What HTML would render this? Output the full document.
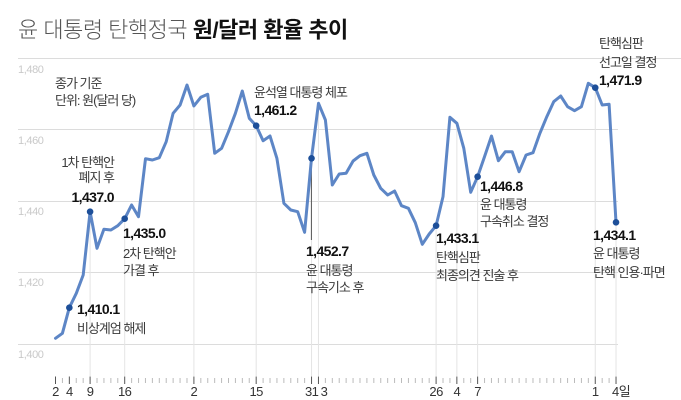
<!DOCTYPE html>
<html><head><meta charset="utf-8">
<style>
html,body{margin:0;padding:0;background:#fff;}
svg{display:block;}
text{font-family:"Liberation Sans","Noto Sans CJK KR",sans-serif;}
.kr{font-size:13px;fill:#3a3a3a;letter-spacing:-1px;}
.num{font-size:14px;font-weight:bold;fill:#111;letter-spacing:-0.6px;}
.yl{font-size:11px;fill:#c9c9c9;letter-spacing:-0.4px;}
.xl{font-size:13px;fill:#333;letter-spacing:-0.5px;}
</style></head>
<body>
<svg id="c" width="681" height="400" viewBox="0 0 681 400" xmlns="http://www.w3.org/2000/svg">
<rect width="681" height="400" fill="#fff"/>
<text x="18" y="37.5" style="font-size:22px;letter-spacing:-0.5px"><tspan fill="#555" font-weight="300">윤 대통령 탄핵정국 </tspan><tspan fill="#111" font-weight="bold">원/달러 환율 추이</tspan></text>

<g stroke="#dcdcdc" stroke-width="1">
<line x1="18" y1="58.5" x2="681" y2="58.5"/>
<line x1="18" y1="129.5" x2="618" y2="129.5"/>
<line x1="18" y1="201.5" x2="618" y2="201.5"/>
<line x1="18" y1="272.5" x2="618" y2="272.5"/>
<line x1="18" y1="344.5" x2="618" y2="344.5"/>
</g>
<text class="yl" x="18" y="73">1,480</text>
<text class="yl" x="18" y="144">1,460</text>
<text class="yl" x="18" y="215">1,440</text>
<text class="yl" x="18" y="286">1,420</text>
<text class="yl" x="18" y="358">1,400</text>

<g id="guides" stroke="#e4e4e4" stroke-width="1"></g>
<g id="ticks"></g>
<line x1="311.4" y1="158" x2="311.4" y2="240" stroke="#555" stroke-width="1"/>

<polyline id="ln" fill="none" stroke="#5d86c6" stroke-width="3" stroke-linejoin="round" stroke-linecap="round" points=""/>
<g id="dots" fill="#1d4f99"></g>

<!-- annotations -->
<text class="kr" x="55" y="88">종가 기준</text>
<text class="kr" x="55" y="105">단위: 원(달러 당)</text>

<text class="kr" x="114" y="167" text-anchor="end">1차 탄핵안</text>
<text class="kr" x="114" y="182" text-anchor="end">폐지 후</text>
<text class="num" x="114" y="202" text-anchor="end">1,437.0</text>

<text class="num" x="77" y="314">1,410.1</text>
<text class="kr" x="77" y="333">비상계엄 해제</text>

<text class="num" x="123" y="238">1,435.0</text>
<text class="kr" x="123" y="258">2차 탄핵안</text>
<text class="kr" x="123" y="275">가결 후</text>

<text class="kr" x="254" y="97">윤석열 대통령 체포</text>
<text class="num" x="254" y="115">1,461.2</text>

<text class="num" x="306" y="256">1,452.7</text>
<text class="kr" x="306" y="275">윤 대통령</text>
<text class="kr" x="306" y="292">구속기소 후</text>

<text class="num" x="436" y="243">1,433.1</text>
<text class="kr" x="436" y="262">탄핵심판</text>
<text class="kr" x="436" y="280">최종의견 진술 후</text>

<text class="num" x="480" y="191">1,446.8</text>
<text class="kr" x="480" y="209">윤 대통령</text>
<text class="kr" x="480" y="226">구속취소 결정</text>

<text class="kr" x="599" y="48">탄핵심판</text>
<text class="kr" x="599" y="67">선고일 결정</text>
<text class="num" x="599" y="85">1,471.9</text>

<text class="num" x="593" y="240">1,434.1</text>
<text class="kr" x="593" y="258">윤 대통령</text>
<text class="kr" x="593" y="277">탄핵 인용·파면</text>

<g id="xl"></g>
</svg>
<script>
(function(){
var ys=[338.3,333.3,307.7,293.3,275,211.7,248.3,229.3,230,225.7,218.7,205,216.7,158.7,160,157.7,141.7,113.3,105,85,
106,97.3,94.3,153.3,148.3,131.7,113.3,91,118.3,125.7,140.7,136,158.3,203.3,210,211.7,232.3,158.3,103.3,120,
185,174,173.3,161,155.7,153.3,175,188.3,195,191,205.7,208.3,222.7,244.3,234,225.7,196.7,117.3,123.3,148.3,
192.3,176.7,156.7,136,160.7,151.7,151.7,171.7,155,152.7,133.3,116.7,101.7,96,106.7,110.7,106.7,83.3,87.7,105,104.3,222.3];
function X(i){return 55.5+6.92*i;}
var NS="http://www.w3.org/2000/svg";
var pts=[];for(var i=0;i<ys.length;i++)pts.push(X(i).toFixed(1)+","+ys[i]);
document.getElementById("ln").setAttribute("points",pts.join(" "));
var major={0:"2",2:"4",5:"9",10:"16",20:"2",29:"15",37:"31",38:"3",55:"26",58:"4",61:"7",78:"1",81:"4일"};
var guides=[5,10,20,29,37,38,55,58,61,78,81];
var g=document.getElementById("guides");
guides.forEach(function(i){var l=document.createElementNS(NS,"line");l.setAttribute("x1",X(i));l.setAttribute("x2",X(i));l.setAttribute("y1",ys[i]);l.setAttribute("y2",376);g.appendChild(l);});
var t=document.getElementById("ticks");
for(var i=0;i<ys.length;i++){var l=document.createElementNS(NS,"line");var m=major.hasOwnProperty(i);
l.setAttribute("x1",X(i));l.setAttribute("x2",X(i));l.setAttribute("y1",m?376.5:378);l.setAttribute("y2",m?384:383);
l.setAttribute("stroke",m?"#555":"#bbb");l.setAttribute("stroke-width","1");t.appendChild(l);}
var xl=document.getElementById("xl");
for(var k in major){var i=+k;var tx=document.createElementNS(NS,"text");tx.setAttribute("class","xl");
var x=X(i);if(i==38)x=324;if(i==37)x=311.7;
if(i==81){tx.setAttribute("x",x-4);tx.setAttribute("text-anchor","start");}else{tx.setAttribute("x",x);tx.setAttribute("text-anchor","middle");}
tx.setAttribute("y",396);tx.textContent=major[k];xl.appendChild(tx);}
var d=document.getElementById("dots");
[2,5,10,29,37,55,61,78,81].forEach(function(i){var c=document.createElementNS(NS,"circle");c.setAttribute("cx",X(i));c.setAttribute("cy",ys[i]);c.setAttribute("r",3.3);d.appendChild(c);});
})();
</script>
</body></html>
